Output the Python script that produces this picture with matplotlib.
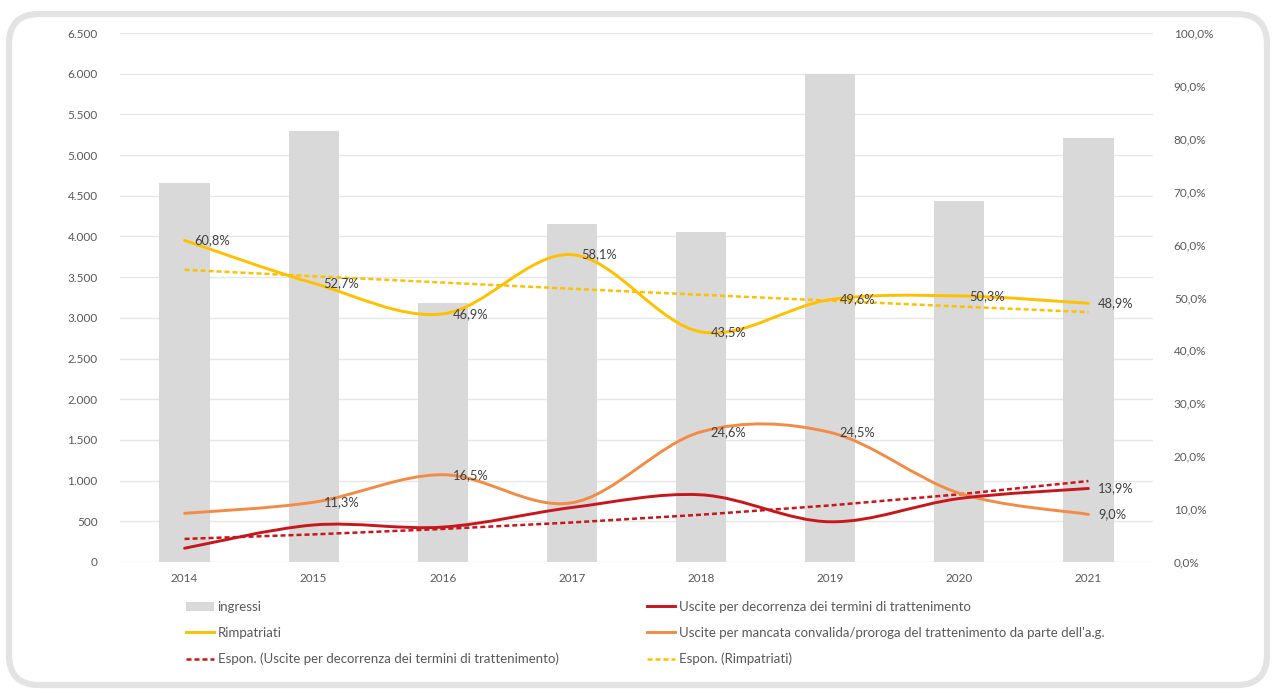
import numpy as np
import matplotlib
matplotlib.use("Agg")
import matplotlib.pyplot as plt
from matplotlib.path import Path
from matplotlib.patches import PathPatch, FancyBboxPatch, Patch
from matplotlib.lines import Line2D
from matplotlib.transforms import IdentityTransform

plt.rcParams['font.family'] = ['Lato', 'DejaVu Sans']

anni = ['2014', '2015', '2016', '2017', '2018', '2019', '2020', '2021']
ingressi = [4660, 5300, 3185, 4155, 4060, 6000, 4430, 5205]
rimpatriati = [60.8, 52.7, 46.9, 58.1, 43.5, 49.6, 50.3, 48.9]
uscite_decorrenza = [2.6, 7.0, 6.6, 10.3, 12.7, 7.6, 12.0, 13.9]
uscite_convalida = [9.2, 11.3, 16.5, 11.2, 24.6, 24.5, 13.0, 9.0]

# which points carry a data label
lab_rimpatriati = [0, 1, 2, 3, 4, 5, 6, 7]
lab_decorrenza = [7]
lab_convalida = [1, 2, 4, 5, 7]

grigio = '#D9D9D9'
giallo = '#FFC000'
rosso = '#C8161D'
arancio = '#F28C45'
testo = '#595959'


def smooth_path(xs, ys):
    # excel-like smoothed line (bezier through the points)
    pts = np.column_stack([xs, ys]).astype(float)
    verts = [pts[0]]
    codes = [Path.MOVETO]
    n = len(pts)
    for i in range(n - 1):
        p0 = pts[max(i - 1, 0)]
        p1 = pts[i]
        p2 = pts[i + 1]
        p3 = pts[min(i + 2, n - 1)]
        c1 = p1 + (p2 - p0) / 6
        c2 = p2 - (p3 - p1) / 6
        verts += [c1, c2, p2]
        codes += [Path.CURVE4] * 3
    return Path(verts, codes)


def pct(v):
    return ('%.1f%%' % v).replace('.', ',')


fig = plt.figure(figsize=(12.76, 6.89), dpi=100)

# rounded frame around the chart
frame = FancyBboxPatch((9, 4), 1258, 671, boxstyle="round,pad=0,rounding_size=30",
                       transform=IdentityTransform(), facecolor='white',
                       edgecolor='#E3E3E3', lw=4.5, zorder=-10)
fig.patches.append(frame)

ax = fig.add_axes([120 / 1276, 1 - 562 / 689, 1033 / 1276, 529 / 689])
ax.patch.set_visible(False)
x = np.arange(len(anni))

ax.bar(x, ingressi, width=0.39, color=grigio, zorder=2)
ax.set_xlim(-0.5, len(anni) - 0.5)
ax.set_ylim(0, 6500)
ax.set_yticks(np.arange(0, 6501, 500))
ax.set_yticklabels(['{:,}'.format(v).replace(',', '.') for v in range(0, 6501, 500)])
ax.set_xticks(x)
ax.set_xticklabels(anni)
ax.grid(axis='y', color='#E6E6E6', lw=1, zorder=0)
ax.set_axisbelow(True)
for s in ax.spines.values():
    s.set_visible(False)
ax.tick_params(axis='both', length=0, colors=testo, labelsize=8.5)
ax.tick_params(axis='y', pad=16)
ax.tick_params(axis='x', pad=8)

ax2 = ax.twinx()
ax2.set_ylim(0, 100)
ax2.set_yticks(np.arange(0, 101, 10))
ax2.set_yticklabels([pct(v) for v in range(0, 101, 10)])
for s in ax2.spines.values():
    s.set_visible(False)
ax2.tick_params(axis='y', length=0, colors=testo, labelsize=8.5, pad=15)

# exponential trendlines
for serie, col in [(uscite_decorrenza, rosso), (rimpatriati, giallo)]:
    b, a = np.polyfit(x, np.log(serie), 1)
    ax2.plot(x, np.exp(a + b * x), color=col, lw=1.8, ls=(0, (2, 1.2)), zorder=3)

for serie, col in [(rimpatriati, giallo), (uscite_convalida, arancio), (uscite_decorrenza, rosso)]:
    ax2.add_patch(PathPatch(smooth_path(x, serie), fill=False, edgecolor=col,
                            lw=2.1, capstyle='round', zorder=4))

for serie, idx in [(rimpatriati, lab_rimpatriati), (uscite_convalida, lab_convalida),
                   (uscite_decorrenza, lab_decorrenza)]:
    for i in idx:
        ax2.annotate(pct(serie[i]), (x[i], serie[i]), xytext=(7, 0),
                     textcoords='offset points', va='center', ha='left',
                     fontsize=9.3, color='#404040', zorder=5)

h_ingressi = Patch(facecolor=grigio, edgecolor='none')
h_rimp = Line2D([], [], color=giallo, lw=2.1)
h_dec = Line2D([], [], color=rosso, lw=2.1)
h_conv = Line2D([], [], color=arancio, lw=2.1)
h_tdec = Line2D([], [], color=rosso, lw=1.8, ls=(0, (2, 1.2)))
h_trimp = Line2D([], [], color=giallo, lw=1.8, ls=(0, (2, 1.2)))

leg_kw = dict(loc='upper left', frameon=False, fontsize=9.5, labelcolor=testo,
              handlelength=2.1, handletextpad=0.3, labelspacing=1.05, borderpad=0,
              borderaxespad=0)
fig.legend([h_ingressi, h_rimp, h_tdec],
           ['ingressi', 'Rimpatriati',
            'Espon. (Uscite per decorrenza dei termini di trattenimento)'],
           bbox_to_anchor=(186 / 1276, 1 - 601 / 689), **leg_kw)
fig.legend([h_dec, h_conv, h_trimp],
           ['Uscite per decorrenza dei termini di trattenimento',
            "Uscite per mancata convalida/proroga del trattenimento da parte dell'a.g.",
            'Espon. (Rimpatriati)'],
           bbox_to_anchor=(647 / 1276, 1 - 601 / 689), **leg_kw)

fig.savefig('out.png', dpi=100, facecolor='white')
